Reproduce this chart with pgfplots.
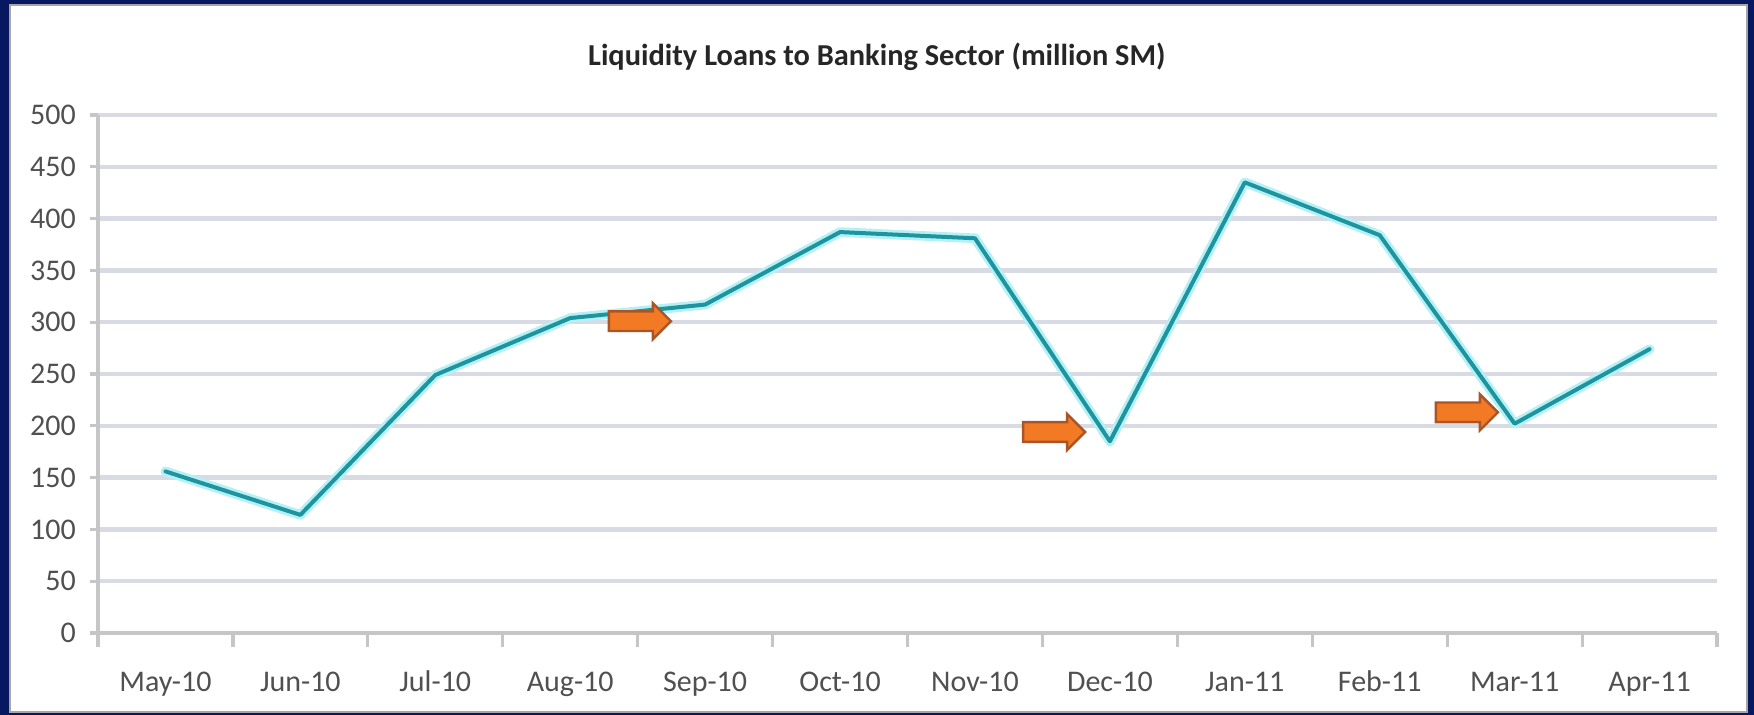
\documentclass[border=0pt]{standalone}
\usepackage{fontspec}
\setmainfont{Carlito}
\usepackage{pgfplots}
\pgfplotsset{compat=1.18}
\usetikzlibrary{shapes.arrows}

\definecolor{navy}{RGB}{8,24,96}
\definecolor{gridc}{RGB}{216,218,228}
\definecolor{teal1}{RGB}{30,148,158}
\definecolor{glow}{RGB}{180,240,245}
\definecolor{arrowfill}{RGB}{242,122,36}
\definecolor{arrowdraw}{RGB}{170,85,40}
\definecolor{txt}{RGB}{80,80,80}

\pgfplotstableread{
x y
0 156
1 114
2 249
3 304
4 317
5 387
6 381
7 185
8 435
9 384
10 202
11 274
}\loans

\begin{document}
\begin{tikzpicture}
% 1 px of the reference = 0.25pt, origin at the axis' lower left corner
\fill[navy] (-24.5pt,-20.5pt) rectangle (414pt,158.25pt);
\filldraw[fill=white,draw=gray!70,line width=0.6pt] (-22pt,-19.75pt) rectangle (412.25pt,157pt);
\begin{axis}[
  scale only axis,
  width=404.75pt, height=129.5pt,
  at={(0,0)}, anchor=south west,
  xmin=-0.5, xmax=11.5,
  ymin=0, ymax=500,
  axis x line=bottom, axis y line=left,
  axis line style={-,draw=gray!45,line width=0.8pt},
  xtick={0,...,11},
  xticklabels={May-10,Jun-10,Jul-10,Aug-10,Sep-10,Oct-10,Nov-10,Dec-10,Jan-11,Feb-11,Mar-11,Apr-11},
  minor xtick={-0.5,0.5,...,11.5},
  xtick style={draw=none},
  minor x tick style={draw=gray!45,line width=0.8pt},
  minor tick length=3.5pt,
  ytick={0,50,...,500},
  ytick style={draw=gray!45,line width=0.8pt},
  major tick length=2pt,
  tick align=outside,
  ymajorgrids,
  major grid style={gridc,line width=1.1pt},
  /pgf/number format/assume math mode=true,
  tick label style={font=\fontsize{7.5pt}{8pt}\selectfont,text=txt},
  xticklabel style={text height=5.5pt,text depth=1.5pt,yshift=-3.5pt},
  clip=false,
]
\addplot[glow,line width=2.4pt,line join=round,line cap=round] table[x=x,y=y] {\loans};
\addplot[teal1,line width=1pt,line join=round,line cap=round] table[x=x,y=y] {\loans};
\node[anchor=base,font=\fontsize{7.6pt}{8pt}\selectfont\bfseries,text=black!85] at (rel axis cs:0.481,1.0965) {Liquidity Loans to Banking Sector (million SM)};
\node[single arrow,fill=arrowfill,draw=arrowdraw,line width=0.6pt,minimum width=9pt,minimum height=15.5pt,inner sep=1.5pt,single arrow head extend=1.5pt] at (axis cs:3.48,301) {};
\node[single arrow,fill=arrowfill,draw=arrowdraw,line width=0.6pt,minimum width=9pt,minimum height=15.5pt,inner sep=1.5pt,single arrow head extend=1.5pt] at (axis cs:6.55,194) {};
\node[single arrow,fill=arrowfill,draw=arrowdraw,line width=0.6pt,minimum width=9pt,minimum height=15.5pt,inner sep=1.5pt,single arrow head extend=1.5pt] at (axis cs:9.61,213) {};
\end{axis}
\end{tikzpicture}
\end{document}
